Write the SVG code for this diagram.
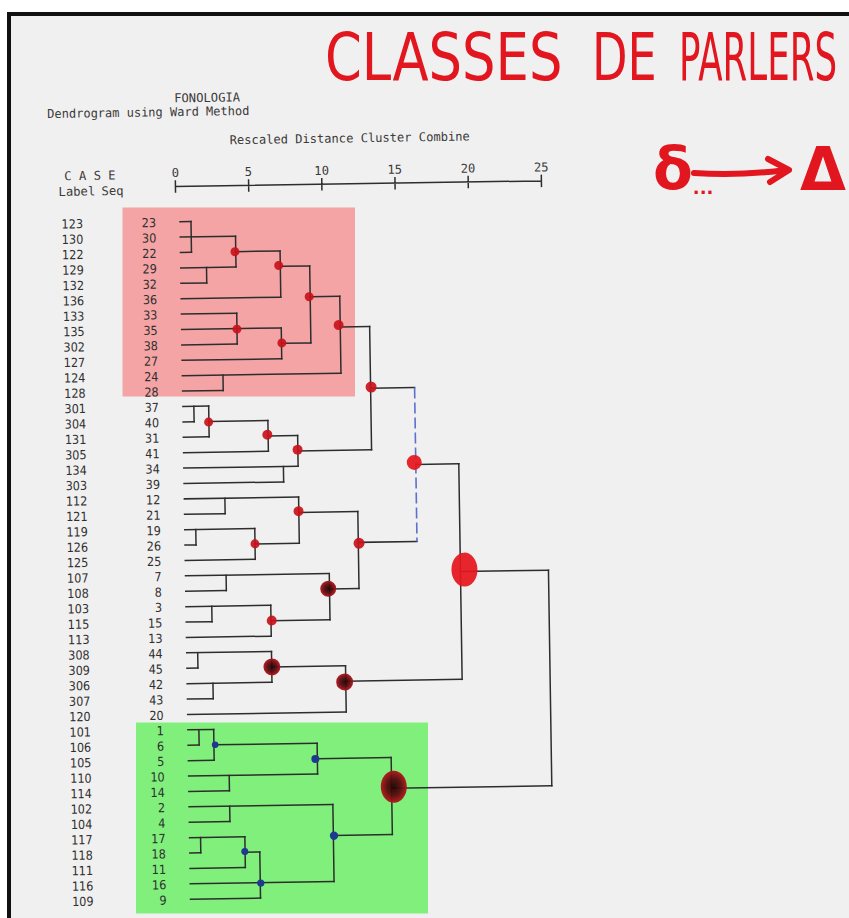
<svg xmlns="http://www.w3.org/2000/svg" width="849" height="918" viewBox="0 0 849 918">
<style>
.ln{fill:none;stroke:#2d2d2d;stroke-width:1.5;stroke-linecap:square}
.bl{fill:none;stroke:#5b70cf;stroke-width:1.6;stroke-dasharray:11 4}
.lb,.sq{font-family:"DejaVu Sans Condensed","DejaVu Sans",sans-serif;font-size:12.5px;fill:#2f2f2f;text-anchor:end}
.hd{font-family:"DejaVu Sans Mono","Liberation Mono",monospace;font-size:12.2px;fill:#3a3a3a}
.tk{font-family:"DejaVu Sans Mono","Liberation Mono",monospace;font-size:12.2px;fill:#3a3a3a;text-anchor:middle}
.rd{fill:#c8121b;fill-opacity:.92}
.br{fill:#e6161e;fill-opacity:.93}
.dk{fill:url(#dkg);fill-opacity:.95}
.nv{fill:#1d3a8f}
.hw{font-family:"DejaVu Sans",sans-serif;fill:#e2161e}
</style>
<defs>
<radialGradient id="dkg">
<stop offset="0" stop-color="#1c0303"/>
<stop offset="0.55" stop-color="#5c0a0d"/>
<stop offset="1" stop-color="#b3141b"/>
</radialGradient>
</defs>
<rect width="849" height="918" fill="#ffffff"/>
<rect x="7" y="12" width="842" height="906" fill="#111"/>
<rect x="11" y="16" width="838" height="902" fill="#f1f0f0"/>
<rect id="box-red" x="122.5" y="207.5" width="232.5" height="189" fill="#f4a4a4"/>
<rect id="box-green" x="136" y="722.5" width="292" height="191" fill="#80ef7c"/>
<g id="title">
<text class="hw" transform="translate(325 80) scale(0.8 1)" font-size="66">CLASSES</text>
<text class="hw" transform="translate(592 80) scale(0.7 1)" font-size="66">DE</text>
<text class="hw" transform="translate(679 80) scale(0.54 1)" font-size="66">PARLERS</text>
</g>
<g id="notation">
<text class="hw" x="653" y="189" font-size="58" font-weight="bold">δ<tspan font-size="18" dy="5">...</tspan></text>
<path d="M694 173 Q740 176 786 170 M768 159 L789 170 L770 182" fill="none" stroke="#e2161e" stroke-width="6" stroke-linecap="round" stroke-linejoin="round"/>
<text class="hw" x="800" y="190" font-size="60" font-weight="bold" textLength="46" lengthAdjust="spacingAndGlyphs">Δ</text>
</g>
<g id="printout" transform="rotate(-0.89 180 222)">
<g id="header">
<text class="hd" x="176" y="102.3">FONOLOGIA</text>
<text class="hd" x="49" y="116" textLength="202" lengthAdjust="spacingAndGlyphs">Dendrogram using Ward Method</text>
<text class="hd" x="231" y="145" textLength="240" lengthAdjust="spacingAndGlyphs">Rescaled Distance Cluster Combine</text>
<text class="hd" x="65" y="178.5">C A S E</text>
<text class="hd" x="59" y="194">Label</text>
<text class="hd" x="102" y="194">Seq</text>
<text class="tk" x="176" y="177">0</text>
<text class="tk" x="249.2" y="177">5</text>
<text class="tk" x="322.4" y="177">10</text>
<text class="tk" x="395.6" y="177">15</text>
<text class="tk" x="468.8" y="177">20</text>
<text class="tk" x="542" y="177">25</text>
<path class="ln" d="M176 186.5H542 M176 181V192 M249.2 181V192 M322.4 181V192 M395.6 181V192 M468.8 181V192 M542 181V192"/>
</g>
<g id="connectors">
<path class="ln" d="M180 221.7H191 M180 237.1H235.3 M180 252.5H191 M180 267.9H235.3 M180 283.3H205.8 M180 298.7H279.6 M180 314.1H235.3 M180 329.5H279.6 M180 344.9H235.3 M180 360.3H279.6 M180 375.7H338.6 M180 391.1H220.6 M180 406.5H205.8 M180 421.9H191 M180 437.3H205.8 M180 452.7H264.8 M180 468.1H294.3 M180 483.5H279.6 M180 498.9H294.3 M180 514.3H220.6 M180 529.7H250 M180 545.1H191 M180 560.5H250 M180 575.9H323.8 M180 591.3H220.6 M180 606.7H264.8 M180 622.1H205.8 M180 637.5H264.8 M180 652.9H264.8 M180 668.3H191 M180 683.7H264.8 M180 699.1H205.8 M180 714.5H338.6 M180 729.9H205.8 M180 745.3H191 M180 760.7H205.8 M180 776.1H309 M180 791.5H220.6 M180 806.9H323.8 M180 822.3H220.6 M180 837.7H235.3 M180 853.1H191 M180 868.5H235.3 M180 883.9H323.8 M180 899.3H250"/>
<path class="ln" d="M235.3 252.5H279.6 M279.6 267.9H309 M309 298.7H338.6 M338.6 329.5H368 M279.6 344.9H309 M368 391.1H412 M205.8 421.9H264.8 M264.8 437.3H294.3 M294.3 452.7H368 M412 468.1H455 M294.3 514.3H353.3 M250 545.1H294.3 M353.3 545.1H412 M455 575.9H543 M323.8 591.3H353.3 M264.8 622.1H323.8 M264.8 668.3H338.6 M338.6 683.7H455 M205.8 745.3H309 M309 760.7H382.8 M382.8 791.5H543 M323.8 837.7H382.8 M235.3 853.1H250"/>
<path class="ln" d="M191 221.7V252.5 M205.8 267.9V283.3 M235.3 237.1V267.9 M279.6 252.5V298.7 M235.3 314.1V344.9 M279.6 329.5V360.3 M309 267.9V344.9 M220.6 375.7V391.1 M338.6 298.7V375.7 M191 406.5V421.9 M205.8 406.5V437.3 M264.8 421.9V452.7 M279.6 468.1V483.5 M294.3 437.3V468.1 M368 329.5V452.7 M220.6 498.9V514.3 M191 529.7V545.1 M250 529.7V560.5 M294.3 498.9V545.1 M220.6 575.9V591.3 M205.8 606.7V622.1 M264.8 606.7V637.5 M323.8 575.9V622.1 M353.3 514.3V591.3 M191 652.9V668.3 M205.8 683.7V699.1 M264.8 652.9V683.7 M338.6 668.3V714.5 M455 468.1V683.7 M191 729.9V745.3 M205.8 729.9V760.7 M220.6 776.1V791.5 M309 745.3V776.1 M220.6 806.9V822.3 M191 837.7V853.1 M235.3 837.7V868.5 M250 853.1V899.3 M323.8 806.9V883.9 M382.8 760.7V837.7 M543 575.9V791.5"/>
<path class="bl" d="M412 391.1V545.1"/>
</g>
<g id="cases">
<g id="case-123"><text class="lb" x="83" y="226.7">123</text><text class="sq" x="156" y="226.7">23</text></g>
<g id="case-130"><text class="lb" x="83" y="242.1">130</text><text class="sq" x="156" y="242.1">30</text></g>
<g id="case-122"><text class="lb" x="83" y="257.5">122</text><text class="sq" x="156" y="257.5">22</text></g>
<g id="case-129"><text class="lb" x="83" y="272.9">129</text><text class="sq" x="156" y="272.9">29</text></g>
<g id="case-132"><text class="lb" x="83" y="288.3">132</text><text class="sq" x="156" y="288.3">32</text></g>
<g id="case-136"><text class="lb" x="83" y="303.7">136</text><text class="sq" x="156" y="303.7">36</text></g>
<g id="case-133"><text class="lb" x="83" y="319.1">133</text><text class="sq" x="156" y="319.1">33</text></g>
<g id="case-135"><text class="lb" x="83" y="334.5">135</text><text class="sq" x="156" y="334.5">35</text></g>
<g id="case-302"><text class="lb" x="83" y="349.9">302</text><text class="sq" x="156" y="349.9">38</text></g>
<g id="case-127"><text class="lb" x="83" y="365.3">127</text><text class="sq" x="156" y="365.3">27</text></g>
<g id="case-124"><text class="lb" x="83" y="380.7">124</text><text class="sq" x="156" y="380.7">24</text></g>
<g id="case-128"><text class="lb" x="83" y="396.1">128</text><text class="sq" x="156" y="396.1">28</text></g>
<g id="case-301"><text class="lb" x="83" y="411.5">301</text><text class="sq" x="156" y="411.5">37</text></g>
<g id="case-304"><text class="lb" x="83" y="426.9">304</text><text class="sq" x="156" y="426.9">40</text></g>
<g id="case-131"><text class="lb" x="83" y="442.3">131</text><text class="sq" x="156" y="442.3">31</text></g>
<g id="case-305"><text class="lb" x="83" y="457.7">305</text><text class="sq" x="156" y="457.7">41</text></g>
<g id="case-134"><text class="lb" x="83" y="473.1">134</text><text class="sq" x="156" y="473.1">34</text></g>
<g id="case-303"><text class="lb" x="83" y="488.5">303</text><text class="sq" x="156" y="488.5">39</text></g>
<g id="case-112"><text class="lb" x="83" y="503.9">112</text><text class="sq" x="156" y="503.9">12</text></g>
<g id="case-121"><text class="lb" x="83" y="519.3">121</text><text class="sq" x="156" y="519.3">21</text></g>
<g id="case-119"><text class="lb" x="83" y="534.7">119</text><text class="sq" x="156" y="534.7">19</text></g>
<g id="case-126"><text class="lb" x="83" y="550.1">126</text><text class="sq" x="156" y="550.1">26</text></g>
<g id="case-125"><text class="lb" x="83" y="565.5">125</text><text class="sq" x="156" y="565.5">25</text></g>
<g id="case-107"><text class="lb" x="83" y="580.9">107</text><text class="sq" x="156" y="580.9">7</text></g>
<g id="case-108"><text class="lb" x="83" y="596.3">108</text><text class="sq" x="156" y="596.3">8</text></g>
<g id="case-103"><text class="lb" x="83" y="611.7">103</text><text class="sq" x="156" y="611.7">3</text></g>
<g id="case-115"><text class="lb" x="83" y="627.1">115</text><text class="sq" x="156" y="627.1">15</text></g>
<g id="case-113"><text class="lb" x="83" y="642.5">113</text><text class="sq" x="156" y="642.5">13</text></g>
<g id="case-308"><text class="lb" x="83" y="657.9">308</text><text class="sq" x="156" y="657.9">44</text></g>
<g id="case-309"><text class="lb" x="83" y="673.3">309</text><text class="sq" x="156" y="673.3">45</text></g>
<g id="case-306"><text class="lb" x="83" y="688.7">306</text><text class="sq" x="156" y="688.7">42</text></g>
<g id="case-307"><text class="lb" x="83" y="704.1">307</text><text class="sq" x="156" y="704.1">43</text></g>
<g id="case-120"><text class="lb" x="83" y="719.5">120</text><text class="sq" x="156" y="719.5">20</text></g>
<g id="case-101"><text class="lb" x="83" y="734.9">101</text><text class="sq" x="156" y="734.9">1</text></g>
<g id="case-106"><text class="lb" x="83" y="750.3">106</text><text class="sq" x="156" y="750.3">6</text></g>
<g id="case-105"><text class="lb" x="83" y="765.7">105</text><text class="sq" x="156" y="765.7">5</text></g>
<g id="case-110"><text class="lb" x="83" y="781.1">110</text><text class="sq" x="156" y="781.1">10</text></g>
<g id="case-114"><text class="lb" x="83" y="796.5">114</text><text class="sq" x="156" y="796.5">14</text></g>
<g id="case-102"><text class="lb" x="83" y="811.9">102</text><text class="sq" x="156" y="811.9">2</text></g>
<g id="case-104"><text class="lb" x="83" y="827.3">104</text><text class="sq" x="156" y="827.3">4</text></g>
<g id="case-117"><text class="lb" x="83" y="842.7">117</text><text class="sq" x="156" y="842.7">17</text></g>
<g id="case-118"><text class="lb" x="83" y="858.1">118</text><text class="sq" x="156" y="858.1">18</text></g>
<g id="case-111"><text class="lb" x="83" y="873.5">111</text><text class="sq" x="156" y="873.5">11</text></g>
<g id="case-116"><text class="lb" x="83" y="888.9">116</text><text class="sq" x="156" y="888.9">16</text></g>
<g id="case-109"><text class="lb" x="83" y="904.3">109</text><text class="sq" x="156" y="904.3">9</text></g>
</g>
<g id="joins">
<g id="join-c"><circle class="rd" cx="234.5" cy="252.5" r="4.5"/></g>
<g id="join-d"><circle class="rd" cx="278" cy="267" r="4.5"/></g>
<g id="join-g"><circle class="rd" cx="308" cy="298.7" r="4.5"/></g>
<g id="join-e"><circle class="rd" cx="235.3" cy="330" r="4.5"/></g>
<g id="join-f"><circle class="rd" cx="280" cy="344.5" r="4.5"/></g>
<g id="join-i"><circle class="rd" cx="337" cy="327.5" r="5"/></g>
<g id="join-j"><circle class="rd" cx="368.5" cy="390" r="5.5"/></g>
<g id="join-l"><circle class="rd" cx="205.5" cy="422.5" r="4.5"/></g>
<g id="join-m"><circle class="rd" cx="264" cy="436" r="5"/></g>
<g id="join-o"><circle class="rd" cx="294" cy="451.5" r="5"/></g>
<g id="join-t"><circle class="rd" cx="294" cy="513" r="5"/></g>
<g id="join-s"><circle class="rd" cx="250" cy="545" r="4.5"/></g>
<g id="join-u"><circle class="rd" cx="354" cy="546" r="5.5"/></g>
<g id="join-y"><circle class="rd" cx="265.5" cy="622" r="5"/></g>
<g id="join-p"><circle class="br" cx="410.5" cy="466" r="7.5"/></g>
<g id="join-ae"><ellipse class="br" cx="459" cy="574" rx="13" ry="17"/></g>
<g id="join-z"><circle class="dk" cx="322.5" cy="591" r="8"/></g>
<g id="join-ac"><circle class="dk" cx="265" cy="668.3" r="8.5"/></g>
<g id="join-ad"><circle class="dk" cx="337.5" cy="684.5" r="8.5"/></g>
<g id="join-ap"><ellipse class="dk" cx="385" cy="790" rx="13" ry="16"/></g>
<g id="join-ah"><circle class="nv" cx="207" cy="745.3" r="3.3"/></g>
<g id="join-aj"><circle class="nv" cx="307" cy="761" r="4"/></g>
<g id="join-ao"><circle class="nv" cx="324.5" cy="838" r="4.2"/></g>
<g id="join-am"><circle class="nv" cx="235" cy="852.5" r="3.5"/></g>
<g id="join-an"><circle class="nv" cx="250.5" cy="884.2" r="3.6"/></g>
</g>
</g>
</svg>
